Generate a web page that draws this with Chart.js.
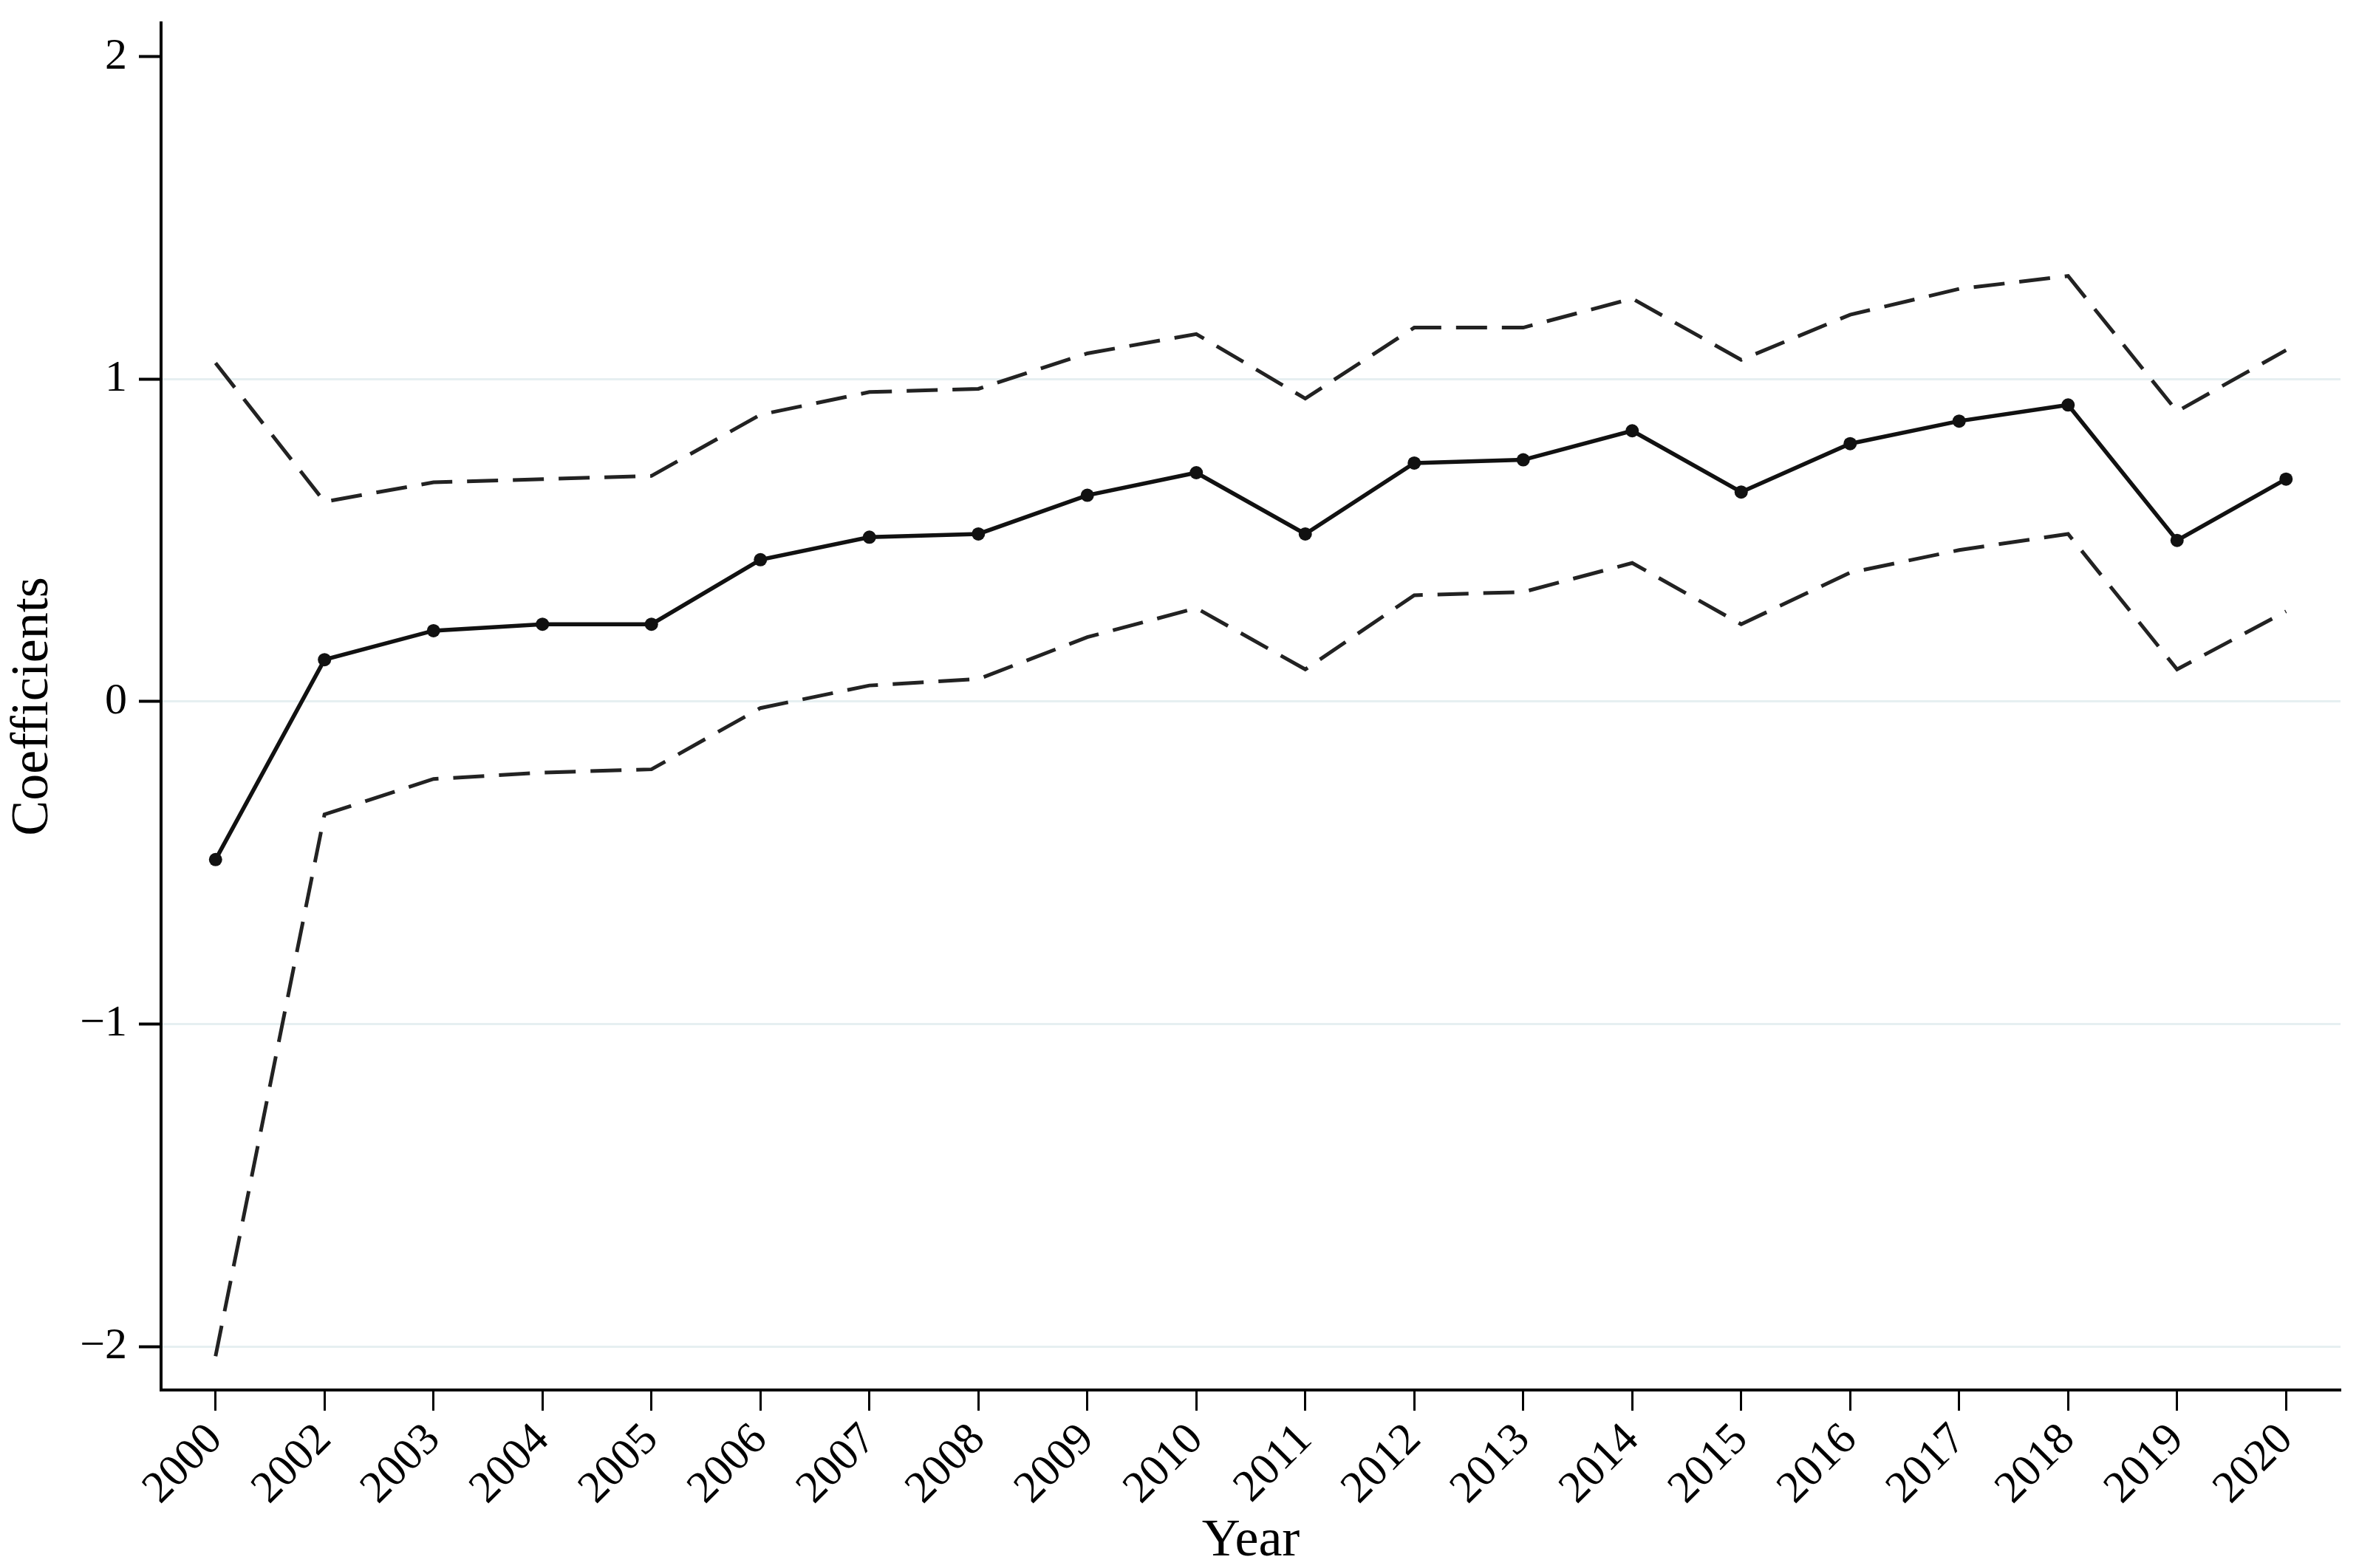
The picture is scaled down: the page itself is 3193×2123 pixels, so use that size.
<!DOCTYPE html>
<html>
<head>
<meta charset="utf-8">
<script src="https://cdn.jsdelivr.net/npm/chart.js@4"></script>
<style>
    html, body { margin: 0; padding: 0; background: #fff; }
    #wrap { width: 3193px; height: 2123px; }
</style>
</head>
<body>
<div id="wrap"><canvas id="chart" width="3193" height="2123"></canvas></div>
<script>
// Data
const years = ['2000', '2002', '2003', '2004', '2005', '2006', '2007', '2008', '2009', '2010',
    '2011', '2012', '2013', '2014', '2015', '2016', '2017', '2018', '2019', '2020'];
const coef = [-0.49, 0.13, 0.22, 0.24, 0.24, 0.44, 0.51, 0.52, 0.64, 0.71,
    0.52, 0.74, 0.75, 0.84, 0.65, 0.80, 0.87, 0.92, 0.50, 0.69];
const upper = [1.05, 0.62, 0.68, 0.69, 0.70, 0.89, 0.96, 0.97, 1.08, 1.14,
    0.94, 1.16, 1.16, 1.25, 1.06, 1.20, 1.28, 1.32, 0.90, 1.09];
const lower = [-2.03, -0.35, -0.24, -0.22, -0.21, -0.02, 0.05, 0.07, 0.20, 0.29,
    0.10, 0.33, 0.34, 0.43, 0.24, 0.40, 0.47, 0.52, 0.10, 0.28];
const yTicks = [-2, -1, 0, 1, 2];

const serif = 'Liberation Serif';

new Chart(document.getElementById('chart'), {
    type: 'line',
    data: {
        labels: years,
        datasets: [
            {
                label: 'Upper',
                data: upper,
                borderColor: '#222',
                borderWidth: 5,
                borderDash: [42, 20],
                pointRadius: 0,
                fill: false,
                tension: 0
            },
            {
                label: 'Coefficients',
                data: coef,
                borderColor: '#111',
                backgroundColor: '#111',
                borderWidth: 5.5,
                pointRadius: 9,
                pointBorderWidth: 0,
                fill: false,
                tension: 0
            },
            {
                label: 'Lower',
                data: lower,
                borderColor: '#222',
                borderWidth: 5,
                borderDash: [42, 20],
                pointRadius: 0,
                fill: false,
                tension: 0
            }
        ]
    },
    options: {
        responsive: false,
        animation: false,
        layout: { padding: { top: 29, right: 25, left: 0, bottom: 0 } },
        plugins: {
            legend: { display: false },
            tooltip: { enabled: false }
        },
        scales: {
            x: {
                type: 'category',
                offset: true,
                border: { display: true, color: '#000', width: 4 },
                grid: {
                    offset: false,
                    drawOnChartArea: false,
                    drawTicks: true,
                    tickLength: 28,
                    tickColor: '#000',
                    tickWidth: 3
                },
                ticks: {
                    autoSkip: false,
                    maxRotation: 45,
                    minRotation: 45,
                    padding: 4,
                    color: '#000',
                    font: { family: serif, size: 61 }
                },
                title: {
                    display: true,
                    text: 'Year',
                    color: '#000',
                    font: { family: serif, size: 72, lineHeight: 1 },
                    padding: { top: 0, bottom: 0 }
                },
                afterFit: (scale) => { scale.height = 241; }
            },
            y: {
                min: -2.135,
                max: 2.105,
                border: { display: true, color: '#000', width: 4 },
                grid: {
                    color: (ctx) => (ctx.tick && ctx.tick.value === 2) ? 'rgba(0,0,0,0)' : '#e6eff1',
                    lineWidth: 3,
                    drawTicks: true,
                    tickLength: 30,
                    tickColor: '#000',
                    tickWidth: 4
                },
                afterBuildTicks: (scale) => {
                    scale.ticks = yTicks.map(v => ({ value: v }));
                },
                ticks: {
                    padding: 16,
                    color: '#000',
                    font: { family: serif, size: 60, lineHeight: 0.5 },
                    callback: (v) => (v < 0 ? '\u2212' + Math.abs(v) : String(v))
                },
                title: {
                    display: true,
                    text: 'Coefficients',
                    color: '#000',
                    font: { family: serif, size: 72, lineHeight: 1 },
                    padding: { top: 9, bottom: 0 }
                },
                afterFit: (scale) => { scale.width = 218; }
            }
        }
    }
});
</script>
</body>
</html>
